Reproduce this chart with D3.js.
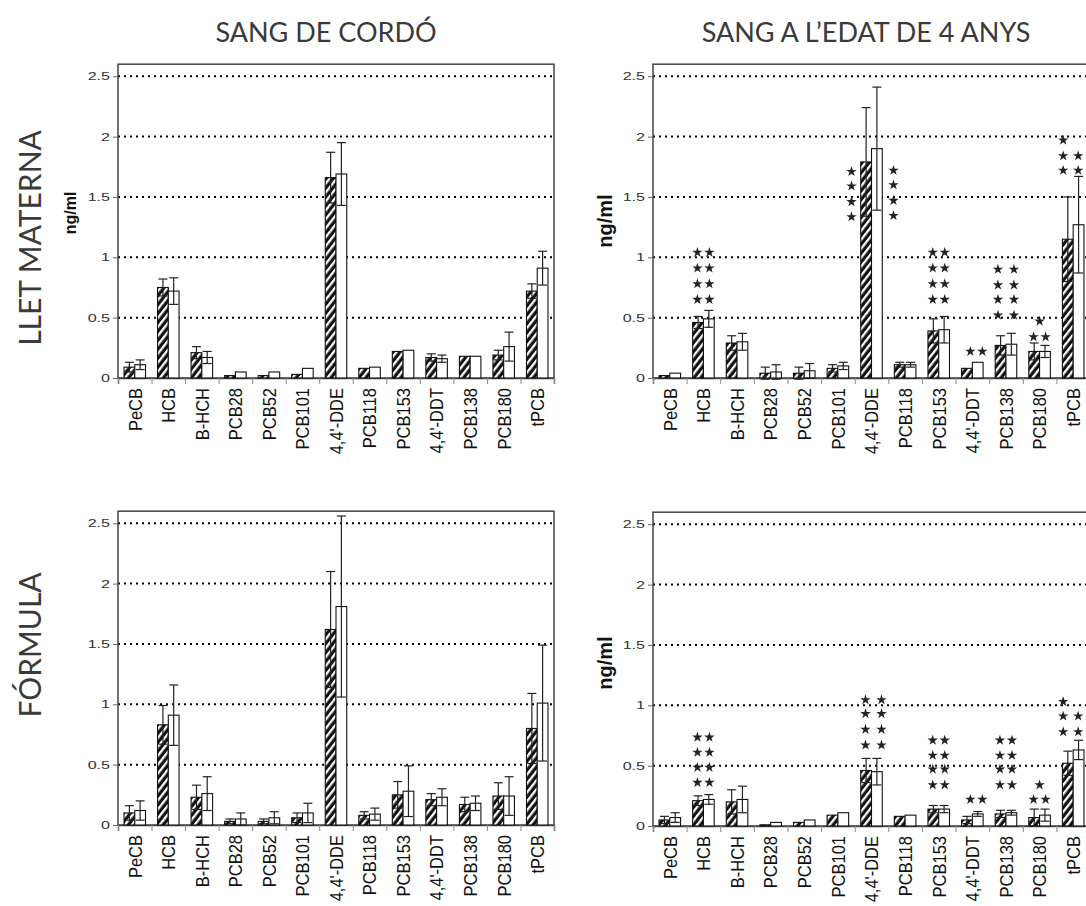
<!DOCTYPE html>
<html>
<head>
<meta charset="utf-8">
<script src="https://cdn.jsdelivr.net/npm/d3@7"></script>
<style>
  body { margin: 0; background: #fff; }
  svg { display: block; }
</style>
</head>
<body>
<svg id="chart" width="1086" height="906"></svg>
<script>
const categories = ["PeCB", "HCB", "B-HCH", "PCB28", "PCB52", "PCB101", "4,4'-DDE",
  "PCB118", "PCB153", "4,4'-DDT", "PCB138", "PCB180", "tPCB"];
const yTicks = [0, 0.5, 1, 1.5, 2, 2.5];
const colTitles = ["SANG DE CORDÓ", "SANG A L\u2019EDAT DE 4 ANYS"];
const rowTitles = ["LLET MATERNA", "FÓRMULA"];

// cord blood, breast milk
const cordMilkA    = [0.09, 0.75, 0.21, 0.02, 0.02, 0.03, 1.66, 0.08, 0.22, 0.17, 0.18, 0.19, 0.72];
const cordMilkAErr = [0.04, 0.07, 0.05, 0.005, 0.005, 0.005, 0.21, 0.01, 0.01, 0.03, 0.01, 0.04, 0.06];
const cordMilkB    = [0.11, 0.72, 0.17, 0.05, 0.05, 0.08, 1.69, 0.09, 0.23, 0.16, 0.18, 0.26, 0.91];
const cordMilkBErr = [0.04, 0.11, 0.05, 0.005, 0.005, 0.005, 0.26, 0.01, 0.01, 0.03, 0.01, 0.12, 0.14];

// blood at age 4, breast milk
const age4MilkA    = [0.02, 0.46, 0.29, 0.04, 0.04, 0.08, 1.79, 0.11, 0.39, 0.08, 0.27, 0.22, 1.15];
const age4MilkAErr = [0.005, 0.05, 0.06, 0.05, 0.05, 0.03, 0.45, 0.02, 0.10, 0.005, 0.08, 0.07, 0.35];
const age4MilkB    = [0.04, 0.49, 0.30, 0.05, 0.06, 0.10, 1.90, 0.11, 0.40, 0.13, 0.28, 0.22, 1.27];
const age4MilkBErr = [0.005, 0.07, 0.07, 0.06, 0.06, 0.03, 0.51, 0.02, 0.11, 0.005, 0.09, 0.05, 0.40];

// cord blood, formula
const cordFormulaA    = [0.10, 0.83, 0.23, 0.03, 0.03, 0.06, 1.62, 0.08, 0.25, 0.21, 0.17, 0.24, 0.80];
const cordFormulaAErr = [0.06, 0.16, 0.10, 0.02, 0.02, 0.04, 0.48, 0.03, 0.11, 0.05, 0.06, 0.11, 0.29];
const cordFormulaB    = [0.12, 0.91, 0.26, 0.05, 0.06, 0.10, 1.81, 0.09, 0.28, 0.23, 0.18, 0.24, 1.01];
const cordFormulaBErr = [0.08, 0.25, 0.14, 0.05, 0.05, 0.08, 0.75, 0.05, 0.21, 0.07, 0.06, 0.16, 0.48];

// blood at age 4, formula
const age4FormulaA    = [0.05, 0.21, 0.20, 0.01, 0.03, 0.09, 0.46, 0.08, 0.14, 0.05, 0.10, 0.07, 0.52];
const age4FormulaAErr = [0.03, 0.04, 0.10, 0.005, 0.005, 0.01, 0.10, 0.01, 0.03, 0.03, 0.03, 0.07, 0.10];
const age4FormulaB    = [0.07, 0.22, 0.22, 0.03, 0.05, 0.11, 0.45, 0.09, 0.14, 0.10, 0.11, 0.09, 0.63];
const age4FormulaBErr = [0.04, 0.04, 0.11, 0.005, 0.005, 0.01, 0.11, 0.01, 0.03, 0.02, 0.02, 0.05, 0.08];

// significance stars: each value is the level of one row of stars
const age4MilkStars = [
  { cat: "HCB", kind: "pair", v: [0.65, 0.78, 0.91, 1.04] },
  { cat: "4,4'-DDE", kind: "left", v: [1.335, 1.46, 1.59, 1.71] },
  { cat: "4,4'-DDE", kind: "right", v: [1.345, 1.47, 1.60, 1.72] },
  { cat: "PCB153", kind: "pair", v: [0.65, 0.78, 0.91, 1.04] },
  { cat: "PCB138", kind: "wide", v: [0.52, 0.65, 0.77, 0.90] },
  { cat: "4,4'-DDT", kind: "pairR", v: [0.22] },
  { cat: "PCB180", kind: "one", v: [0.47] },
  { cat: "PCB180", kind: "pair", v: [0.34] },
  { cat: "tPCB", kind: "wideL", v: [1.72, 1.84] },
  { cat: "tPCB", kind: "oneL", v: [1.97] }
];
const age4FormulaStars = [
  { cat: "HCB", kind: "pair", v: [0.36, 0.485, 0.61, 0.735] },
  { cat: "4,4'-DDE", kind: "wideR", v: [0.67, 0.80, 0.93, 1.045] },
  { cat: "PCB153", kind: "pair", v: [0.34, 0.47, 0.585, 0.71] },
  { cat: "PCB138", kind: "pair", v: [0.34, 0.47, 0.585, 0.71] },
  { cat: "4,4'-DDT", kind: "pairR", v: [0.22] },
  { cat: "PCB180", kind: "one", v: [0.34] },
  { cat: "PCB180", kind: "pair", v: [0.22] },
  { cat: "tPCB", kind: "wideL", v: [0.78, 0.91] },
  { cat: "tPCB", kind: "oneL", v: [1.03] }
];

// horizontal offsets of the stars in a row, by kind
const starOffsets = {
  pair: [-6, 6], pairR: [-2, 10], wide: [-8, 8], wideR: [-6, 10], wideL: [-10, 5],
  one: [0], oneL: [-10], left: [-20], right: [22]
};

const svg = d3.select("#chart");
const defs = svg.append("defs");
const hatch = defs.append("pattern")
  .attr("id", "hatch")
  .attr("patternUnits", "userSpaceOnUse")
  .attr("width", 5.5).attr("height", 10)
  .attr("patternTransform", "rotate(38)");
hatch.append("rect").attr("width", 5.5).attr("height", 10).attr("fill", "#111");
hatch.append("rect").attr("width", 2.3).attr("height", 10).attr("fill", "#fff");

const panels = [
  { x0: 118, x1: 554, zero: 378, a: cordMilkA, ae: cordMilkAErr, b: cordMilkB, be: cordMilkBErr, stars: [], yLabel: { x: 70, y: 213, size: 16 } },
  { x0: 653, x1: 1090, zero: 378, a: age4MilkA, ae: age4MilkAErr, b: age4MilkB, be: age4MilkBErr, stars: age4MilkStars, yLabel: { x: 605, y: 221, size: 20 } },
  { x0: 118, x1: 554, zero: 825, a: cordFormulaA, ae: cordFormulaAErr, b: cordFormulaB, be: cordFormulaBErr, stars: [], yLabel: null },
  { x0: 653, x1: 1090, zero: 826, a: age4FormulaA, ae: age4FormulaAErr, b: age4FormulaB, be: age4FormulaBErr, stars: age4FormulaStars, yLabel: { x: 605, y: 663, size: 20 } }
];

const pxPerUnit = 120.7;

panels.forEach(function (p) {
  const g = svg.append("g");
  const y = d3.scaleLinear().domain([0, 2.6]).range([p.zero, p.zero - 2.6 * pxPerUnit]);
  const x = d3.scaleBand().domain(categories).range([p.x0, p.x1]);
  const xs = d3.scaleBand().domain(["a", "b"]).range([0, x.bandwidth()]).paddingOuter(0.56);
  const xEdge = d3.scaleLinear().domain([0, categories.length]).range([p.x0, p.x1]);

  // dotted gridlines
  g.selectAll(".grid")
    .data(yTicks.filter(d => d > 0))
    .enter().append("line")
    .attr("x1", p.x0).attr("x2", p.x1)
    .attr("y1", d => y(d)).attr("y2", d => y(d))
    .attr("stroke", "#000").attr("stroke-width", 2)
    .attr("stroke-dasharray", "2,4");

  // frame
  g.append("rect")
    .attr("x", p.x0).attr("y", y(2.6))
    .attr("width", p.x1 - p.x0).attr("height", y(0) - y(2.6))
    .attr("fill", "none").attr("stroke", "#444").attr("stroke-width", 1.5);

  // y axis
  const yAxis = g.append("g")
    .attr("transform", `translate(${p.x0},0)`)
    .call(d3.axisLeft(y).tickValues(yTicks).tickSize(5).tickFormat(d => String(d)));
  yAxis.select(".domain").remove();
  yAxis.selectAll("line").attr("stroke", "#666");
  yAxis.selectAll("text")
    .attr("font-family", "Liberation Sans, Arial, sans-serif")
    .attr("font-size", 11.5)
    .attr("fill", "#333")
    .attr("x", -8 / 1.4)
    .attr("transform", "scale(1.4,1)");

  // category boundary ticks
  const xAxis = g.append("g")
    .attr("transform", `translate(0,${p.zero})`)
    .call(d3.axisBottom(xEdge).tickValues(d3.range(categories.length + 1)).tickSize(6).tickFormat(""));
  xAxis.select(".domain").attr("stroke", "#444").attr("stroke-width", 1.5);
  xAxis.selectAll("line").attr("stroke", "#888");

  // category labels
  const labels = g.append("g")
    .attr("transform", `translate(0,${p.zero})`)
    .call(d3.axisBottom(x).tickSize(0));
  labels.select(".domain").remove();
  labels.selectAll("text")
    .attr("font-family", "Liberation Sans, Arial, sans-serif")
    .attr("font-size", 16.5)
    .attr("fill", "#111")
    .attr("transform", "rotate(-90) scale(1,1.15)")
    .attr("x", -10).attr("y", 0).attr("dy", "0.36em")
    .style("text-anchor", "end");

  const rows = categories.map((c, i) => ({ cat: c, a: p.a[i], ae: p.ae[i], b: p.b[i], be: p.be[i] }));
  const series = [
    { key: "a", fill: "url(#hatch)", val: d => d.a, err: d => d.ae },
    { key: "b", fill: "#fff", val: d => d.b, err: d => d.be }
  ];

  series.forEach(function (s) {
    g.selectAll(".bar-" + s.key)
      .data(rows)
      .enter().append("rect")
      .attr("x", d => x(d.cat) + xs(s.key))
      .attr("y", d => y(s.val(d)))
      .attr("width", xs.bandwidth())
      .attr("height", d => y(0) - y(s.val(d)))
      .attr("fill", s.fill)
      .attr("stroke", "#111").attr("stroke-width", 1.1);
  });

  // error bars
  series.forEach(function (s) {
    const eg = g.selectAll(".err-" + s.key)
      .data(rows.filter(d => s.err(d) >= 0.015))
      .enter().append("g")
      .attr("stroke", "#222").attr("stroke-width", 1.2);
    const cx = d => x(d.cat) + xs(s.key) + xs.bandwidth() / 2;
    eg.append("line")
      .attr("x1", cx).attr("x2", cx)
      .attr("y1", d => y(s.val(d) - s.err(d))).attr("y2", d => y(s.val(d) + s.err(d)));
    eg.append("line")
      .attr("x1", d => cx(d) - 4.5).attr("x2", d => cx(d) + 4.5)
      .attr("y1", d => y(s.val(d) + s.err(d))).attr("y2", d => y(s.val(d) + s.err(d)));
    eg.append("line")
      .attr("x1", d => cx(d) - 4.5).attr("x2", d => cx(d) + 4.5)
      .attr("y1", d => y(s.val(d) - s.err(d))).attr("y2", d => y(s.val(d) - s.err(d)));
  });

  // significance stars
  const star = d3.symbol().type(d3.symbolStar).size(34);
  const starPts = [];
  p.stars.forEach(function (st) {
    const c = x(st.cat) + x.bandwidth() / 2;
    st.v.forEach(function (v) {
      starOffsets[st.kind].forEach(function (dx) {
        starPts.push({ x: c + dx, y: y(v) });
      });
    });
  });
  g.selectAll(".star")
    .data(starPts)
    .enter().append("path")
    .attr("d", star)
    .attr("transform", d => `translate(${d.x},${d.y})`)
    .attr("fill", "#222");

  if (p.yLabel) {
    g.append("text")
      .attr("transform", `translate(${p.yLabel.x},${p.yLabel.y}) rotate(-90)`)
      .attr("text-anchor", "middle")
      .attr("dy", "0.35em")
      .attr("font-family", "Liberation Sans, Arial, sans-serif")
      .attr("font-weight", "bold")
      .attr("font-size", p.yLabel.size)
      .attr("fill", "#111")
      .text("ng/ml");
  }
});

// column titles
svg.selectAll(".col-title")
  .data(colTitles)
  .enter().append("text")
  .attr("x", (d, i) => [326, 866][i])
  .attr("y", 42)
  .attr("text-anchor", "middle")
  .attr("font-family", "Lato, sans-serif")
  .attr("font-size", 27)
  .attr("fill", "#3a3a3a")
  .text(d => d);

// row titles
svg.selectAll(".row-title")
  .data(rowTitles)
  .enter().append("text")
  .attr("transform", (d, i) => `translate(30,${[238, 645][i]}) rotate(-90)`)
  .attr("text-anchor", "middle")
  .attr("dy", "0.35em")
  .attr("font-family", "Lato, sans-serif")
  .attr("font-size", 30)
  .attr("fill", "#3a3a3a")
  .text(d => d);
</script>
</body>
</html>
